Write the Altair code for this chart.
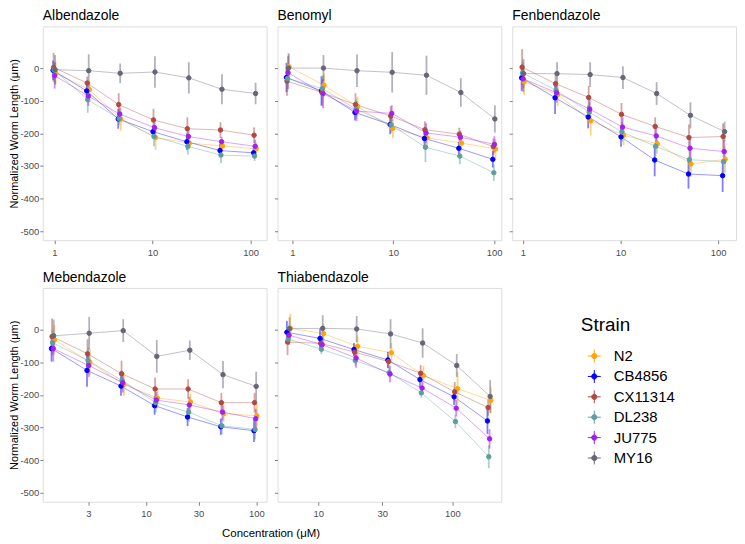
import math
import altair as alt
import pandas as pd

# ---------------- data ----------------
strains = ["N2", "CB4856", "CX11314", "DL238", "JU775", "MY16"]
strain_colors = ["#FFA500", "#0000FF", "#AE4A43", "#5F9EA0", "#A020F0", "#666677"]
drugs = ["Albendazole", "Benomyl", "Fenbendazole", "Mebendazole", "Thiabendazole"]

conc_albendazole = [1.0, 2.2, 4.6, 10.4, 23, 50, 110]
conc_benomyl = [0.9, 2.0, 4.3, 9.6, 21, 46, 100]
conc_fenbendazole = [1.0, 2.2, 4.8, 10.4, 23, 51, 114]
conc_mebendazole = [1.43, 3.0, 6.1, 12.3, 24.5, 49, 98]
conc_thiabendazole = [6.0, 10.6, 19, 34, 59, 106, 188]

len_albendazole = {
    "N2": [-15, -66, -157, -213, -230, -239, -248],
    "CB4856": [-7, -70, -156, -195, -226, -253, -260],
    "CX11314": [2, -46, -112, -159, -186, -190, -206],
    "DL238": [-6, -97, -155, -210, -240, -267, -270],
    "JU775": [-23, -86, -141, -183, -210, -226, -240],
    "MY16": [-5, -8, -16, -12, -30, -65, -78],
}
err_albendazole = {
    "N2": [35, 25, 35, 38, 20, 20, 20],
    "CB4856": [30, 25, 30, 20, 25, 20, 15],
    "CX11314": [45, 20, 35, 34, 35, 24, 24],
    "DL238": [25, 40, 20, 30, 25, 25, 15],
    "JU775": [40, 30, 20, 20, 20, 15, 20],
    "MY16": [45, 50, 30, 48, 48, 46, 33],
}

len_benomyl = {
    "N2": [4, -53, -118, -185, -214, -230, -248],
    "CB4856": [-29, -70, -136, -173, -216, -246, -280],
    "CX11314": [-40, -75, -112, -147, -189, -203, -241],
    "DL238": [-32, -63, -126, -174, -243, -270, -321],
    "JU775": [-14, -78, -132, -139, -199, -212, -234],
    "MY16": [0, 0, -8, -13, -22, -75, -156],
}
err_benomyl = {
    "N2": [40, 35, 30, 30, 25, 25, 30],
    "CB4856": [45, 45, 25, 30, 25, 20, 25],
    "CX11314": [45, 40, 35, 30, 25, 20, 25],
    "DL238": [40, 40, 30, 25, 45, 25, 25],
    "JU775": [50, 45, 30, 25, 30, 20, 25],
    "MY16": [45, 40, 50, 62, 60, 44, 42],
}

len_fenbendazole = {
    "N2": [-42, -81, -162, -206, -232, -294, -280],
    "CB4856": [-30, -91, -150, -211, -282, -325, -330],
    "CX11314": [3, -48, -90, -142, -179, -213, -210],
    "DL238": [-15, -68, -135, -196, -240, -281, -287],
    "JU775": [-33, -76, -126, -181, -208, -246, -256],
    "MY16": [-17, -17, -20, -29, -78, -145, -195],
}
err_fenbendazole = {
    "N2": [40, 35, 45, 30, 30, 40, 40],
    "CB4856": [40, 50, 35, 30, 50, 45, 50],
    "CX11314": [55, 25, 35, 35, 28, 40, 40],
    "DL238": [35, 30, 30, 30, 30, 35, 35],
    "JU775": [40, 30, 35, 30, 30, 30, 35],
    "MY16": [45, 35, 38, 35, 35, 40, 30],
}

len_mebendazole = {
    "N2": [-31, -100, -168, -210, -222, -258, -264],
    "CB4856": [-58, -125, -173, -233, -268, -298, -310],
    "CX11314": [-21, -74, -135, -182, -182, -224, -224],
    "DL238": [-40, -95, -156, -224, -253, -295, -306],
    "JU775": [-58, -110, -163, -216, -231, -253, -273],
    "MY16": [-19, -11, -3, -82, -63, -138, -174],
}
err_mebendazole = {
    "N2": [45, 40, 35, 30, 25, 25, 35],
    "CB4856": [40, 50, 30, 28, 28, 25, 35],
    "CX11314": [55, 45, 40, 35, 30, 30, 30],
    "DL238": [40, 40, 30, 30, 30, 25, 30],
    "JU775": [40, 35, 30, 25, 25, 25, 30],
    "MY16": [50, 50, 35, 50, 30, 42, 45],
}

len_thiabendazole = {
    "N2": [4, -12, -51, -71, -141, -181, -217],
    "CB4856": [-8, -27, -61, -93, -153, -206, -280],
    "CX11314": [-38, -42, -69, -98, -134, -191, -239],
    "DL238": [-29, -60, -95, -132, -194, -282, -390],
    "JU775": [-17, -46, -87, -136, -179, -241, -335],
    "MY16": [3, 4, 2, -13, -41, -110, -205],
}
err_thiabendazole = {
    "N2": [45, 30, 30, 30, 30, 50, 40],
    "CB4856": [35, 30, 20, 25, 25, 25, 40],
    "CX11314": [40, 20, 20, 20, 25, 30, 25],
    "DL238": [15, 15, 15, 15, 15, 20, 35],
    "JU775": [30, 20, 30, 25, 20, 25, 30],
    "MY16": [35, 40, 40, 45, 45, 35, 50],
}

x_ticks = {
    "Albendazole": [1, 10, 100],
    "Benomyl": [1, 10, 100],
    "Fenbendazole": [1, 10, 100],
    "Mebendazole": [3, 10, 30, 100],
    "Thiabendazole": [10, 30, 100],
}
y_ticks = [-500, -400, -300, -200, -100, 0]

# ---------------- styling / layout ----------------
x_domains = {
    "Albendazole": [0.764, 145],
    "Benomyl": [0.714, 118],
    "Fenbendazole": [0.78, 152],
    "Mebendazole": [1.16, 124],
    "Thiabendazole": [4.97, 232],
}
Y_DOMAIN = [-528, 128]
# horizontal dodge (in decades of the log axis)
dodge = {"N2": 0.014, "CB4856": -0.012, "CX11314": -0.007,
         "DL238": -0.002, "JU775": 0.004, "MY16": 0.008}

FONT = "Liberation Sans"
W, H = 225, 215

concs = {"Albendazole": conc_albendazole, "Benomyl": conc_benomyl,
         "Fenbendazole": conc_fenbendazole, "Mebendazole": conc_mebendazole,
         "Thiabendazole": conc_thiabendazole}
lens = {"Albendazole": len_albendazole, "Benomyl": len_benomyl,
        "Fenbendazole": len_fenbendazole, "Mebendazole": len_mebendazole,
        "Thiabendazole": len_thiabendazole}
errs = {"Albendazole": err_albendazole, "Benomyl": err_benomyl,
        "Fenbendazole": err_fenbendazole, "Mebendazole": err_mebendazole,
        "Thiabendazole": err_thiabendazole}
hex_of = dict(zip(strains, strain_colors))

rows = []
for drug in drugs:
    for s in strains:
        for c, v, e in zip(concs[drug], lens[drug][s], errs[drug][s]):
            rows.append({"drug": drug, "strain": s, "hex": hex_of[s], "conc": c,
                         "xpos": c * 10 ** dodge[s], "len": v,
                         "lo": v - e, "hi": v + e})
df = pd.DataFrame(rows)

# legend symbol: filled circle with a cross
pts = []
for k in range(16):
    a = 2 * math.pi * k / 16
    pts.append(f"{0.4 * math.cos(a):.3f},{0.4 * math.sin(a):.3f}")
symbol_path = "M" + "L".join(pts) + "Z M-1,0L1,0 M0,-1L0,1"

legend = alt.Legend(
    title="Strain", orient="none", legendX=541, legendY=291,
    titleFontSize=19, titleFont=FONT, titleFontWeight="normal", titleColor="black",
    titlePadding=14, labelFontSize=15, labelFont=FONT, labelColor="black",
    labelOffset=12, symbolType=symbol_path, symbolSize=170, symbolStrokeWidth=1,
    symbolOffset=6, rowPadding=1.5, padding=0,
)

color_scale = alt.Scale(domain=strains, range=strain_colors)
Y_TITLE = "Normalized Worm Length (μm)"


def make_panel(drug, col):
    d = df[df.drug == drug]
    left = col == 0
    xa = dict(values=x_ticks[drug], format="~g", grid=False, domain=False,
              tickSize=3.5, tickColor="#808080", labelFontSize=9.5,
              labelColor="#4d4d4d", labelPadding=3.5, labelFont=FONT,
              labelFlush=False, title=None)
    if drug == "Mebendazole":
        xa.update(title="Concentration (μM)", titleX=229, titleY=26,
                  titleBaseline="top", titleFontSize=11.5, titleFont=FONT,
                  titleFontWeight="normal", titleColor="black")
    ya = dict(values=y_ticks, grid=False, domain=False, tickSize=3,
              tickColor="#808080", labelFontSize=9.5, labelColor="#4d4d4d",
              labelPadding=1, labelFont=FONT, labels=left,
              labelExpr="'' + datum.value", title=None)
    if left:
        ya.update(title=Y_TITLE, titleFontSize=11, titleFont=FONT,
                  titleFontWeight="normal", titleColor="black", titlePadding=0)
    xenc = alt.X("xpos:Q", scale=alt.Scale(type="log", domain=x_domains[drug],
                                           nice=False), axis=alt.Axis(**xa))
    yscale = alt.Scale(domain=Y_DOMAIN, nice=False, zero=False)
    base = alt.Chart(d)
    lines = base.mark_line(strokeWidth=0.8, opacity=0.5).encode(
        x=xenc,
        y=alt.Y("len:Q", scale=yscale, axis=alt.Axis(**ya)),
        color=alt.Color("hex:N", scale=None),
        detail="strain:N",
    )
    bars = base.mark_rule(strokeWidth=1.8, opacity=0.5).encode(
        x=xenc,
        y=alt.Y("lo:Q", scale=yscale, axis=alt.Axis(**ya)),
        y2="hi:Q",
        color=alt.Color("hex:N", scale=None),
    )
    points = base.mark_point(filled=True, size=20, strokeWidth=1, opacity=1).encode(
        x=xenc,
        y=alt.Y("len:Q", scale=yscale, axis=alt.Axis(**ya)),
        fill=alt.Fill("strain:N", scale=color_scale, legend=legend),
        stroke=alt.Stroke("strain:N", scale=color_scale, legend=legend),
    )
    return alt.layer(lines, bars, points).properties(
        width=W, height=H,
        title=alt.TitleParams(drug, anchor="start", frame="group", fontSize=14,
                              font=FONT, fontWeight="normal", color="black",
                              offset=3),
    )


panels = [make_panel(dname, i % 3) for i, dname in enumerate(drugs)]

chart = alt.concat(
    *panels, columns=3, bounds="flush", spacing={"row": 48, "column": 11}
).properties(
    padding={"top": -1, "left": 0, "right": 0, "bottom": 0}
).configure_view(
    stroke="#888888", strokeWidth=1
).configure(font=FONT)

chart.save("out.html", embed_options={"renderer": "svg", "actions": False})
